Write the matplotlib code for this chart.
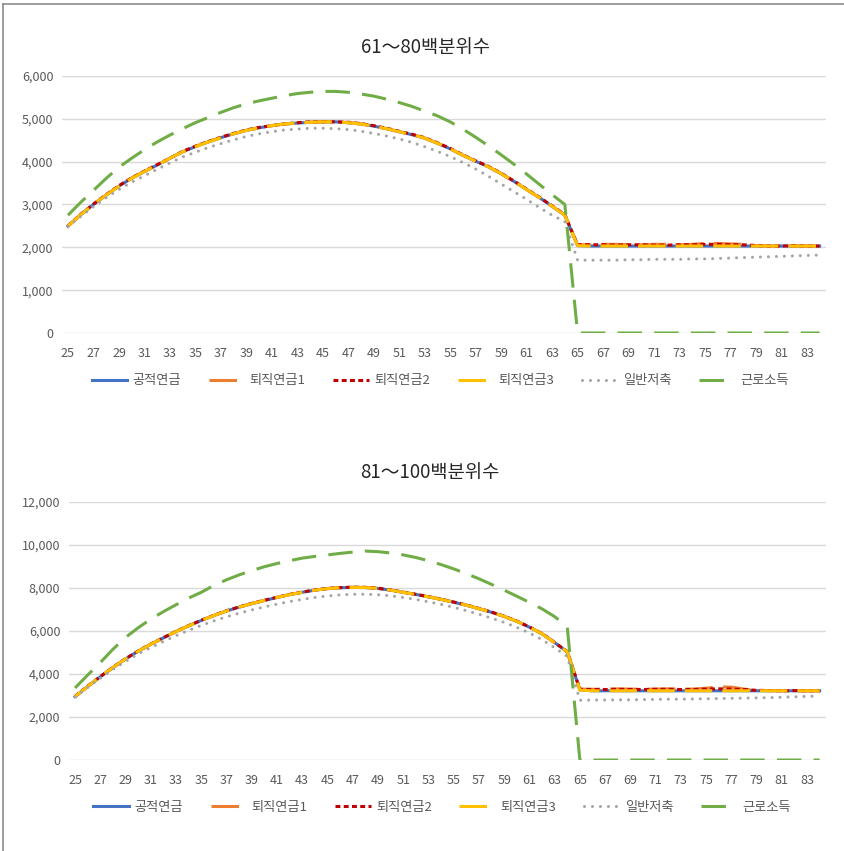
import numpy as np
import matplotlib
matplotlib.use('Agg')
import matplotlib.pyplot as plt
from matplotlib.ticker import FuncFormatter, MultipleLocator
from matplotlib.lines import Line2D

plt.rcParams['font.family'] = ['Noto Sans CJK KR', 'DejaVu Sans']

ages = list(range(25, 85))
age_ticks = list(range(25, 85, 2))

series_names = ['공적연금', '퇴직연금1', '퇴직연금2', '퇴직연금3', '일반저축', '근로소득']

# 61~80 percentile
mid_public = [2500, 2760, 3000, 3220, 3430, 3610, 3770, 3920, 4080, 4230,
              4350, 4460, 4560, 4650, 4730, 4790, 4840, 4880, 4900, 4920,
              4930, 4930, 4910, 4880, 4830, 4770, 4700, 4630, 4550, 4430,
              4300, 4150, 4010, 3880, 3720, 3540, 3350, 3160, 2960, 2750,
              2040, 2030, 2030, 2030, 2030, 2030, 2030, 2030, 2030, 2030,
              2030, 2030, 2030, 2030, 2030, 2030, 2030, 2030, 2030, 2030]
mid_ret1 = [2500, 2760, 3010, 3220, 3430, 3620, 3770, 3920, 4080, 4230,
            4360, 4460, 4560, 4650, 4730, 4790, 4840, 4880, 4900, 4920,
            4930, 4930, 4910, 4880, 4830, 4770, 4700, 4630, 4550, 4430,
            4300, 4150, 4010, 3880, 3720, 3540, 3350, 3160, 2960, 2760,
            2060, 2060, 2070, 2070, 2060, 2060, 2070, 2070, 2060, 2070,
            2090, 2090, 2080, 2070, 2040, 2030, 2030, 2030, 2030, 2030]
mid_ret2 = [2500, 2770, 3010, 3230, 3440, 3620, 3780, 3930, 4080, 4240,
            4360, 4470, 4570, 4660, 4740, 4800, 4840, 4880, 4910, 4930,
            4930, 4930, 4920, 4890, 4840, 4780, 4710, 4640, 4560, 4440,
            4310, 4160, 4020, 3890, 3730, 3550, 3360, 3170, 2970, 2760,
            2060, 2060, 2060, 2050, 2060, 2060, 2050, 2050, 2060, 2060,
            2070, 2070, 2060, 2060, 2040, 2030, 2030, 2040, 2030, 2030]
mid_ret3 = [2500, 2760, 3000, 3220, 3430, 3610, 3770, 3920, 4080, 4230,
            4350, 4460, 4560, 4650, 4730, 4790, 4840, 4880, 4900, 4920,
            4930, 4930, 4910, 4880, 4830, 4770, 4700, 4630, 4550, 4430,
            4300, 4150, 4010, 3880, 3720, 3540, 3350, 3160, 2960, 2750,
            2040, 2030, 2030, 2030, 2030, 2030, 2030, 2030, 2030, 2030,
            2030, 2030, 2030, 2030, 2030, 2030, 2030, 2030, 2030, 2030]
mid_saving = [2480, 2720, 2950, 3160, 3350, 3520, 3670, 3820, 3970, 4110,
              4220, 4330, 4420, 4510, 4590, 4650, 4700, 4740, 4760, 4780,
              4780, 4770, 4750, 4710, 4660, 4600, 4530, 4450, 4350, 4240,
              4120, 3980, 3830, 3660, 3480, 3300, 3120, 2930, 2750, 2600,
              1700, 1700, 1700, 1700, 1710, 1710, 1720, 1720, 1720, 1730,
              1730, 1740, 1750, 1760, 1770, 1780, 1790, 1800, 1810, 1820]
mid_wage = [2750, 3050, 3330, 3610, 3870, 4080, 4280, 4460, 4620, 4770,
            4910, 5030, 5150, 5260, 5350, 5420, 5480, 5540, 5590, 5620,
            5640, 5640, 5620, 5580, 5530, 5460, 5380, 5290, 5180, 5070,
            4930, 4760, 4570, 4370, 4160, 3940, 3710, 3470, 3230, 3000,
            0, 0, 0, 0, 0, 0, 0, 0, 0, 0,
            0, 0, 0, 0, 0, 0, 0, 0, 0, 0]

# 81~100 percentile
top_public = [2950, 3420, 3870, 4300, 4700, 5060, 5380, 5680, 5970, 6240,
              6490, 6720, 6930, 7110, 7270, 7420, 7560, 7690, 7800, 7900,
              7970, 8010, 8030, 8020, 7980, 7900, 7800, 7700, 7590, 7470,
              7340, 7200, 7040, 6870, 6680, 6450, 6180, 5870, 5460, 5030,
              3260, 3220, 3220, 3220, 3220, 3220, 3220, 3220, 3220, 3220,
              3220, 3220, 3220, 3220, 3220, 3220, 3220, 3220, 3220, 3220]
top_ret1 = [2950, 3420, 3880, 4300, 4710, 5060, 5390, 5680, 5980, 6240,
            6500, 6720, 6940, 7110, 7280, 7420, 7560, 7700, 7800, 7900,
            7980, 8010, 8030, 8030, 7980, 7910, 7800, 7710, 7590, 7480,
            7340, 7210, 7040, 6880, 6680, 6460, 6180, 5880, 5460, 5040,
            3300, 3290, 3300, 3310, 3300, 3290, 3300, 3310, 3300, 3300,
            3340, 3400, 3390, 3300, 3240, 3230, 3220, 3220, 3220, 3220]
top_ret2 = [2960, 3430, 3880, 4310, 4710, 5070, 5390, 5690, 5980, 6250,
            6500, 6730, 6940, 7120, 7280, 7430, 7570, 7700, 7810, 7910,
            7980, 8020, 8040, 8030, 7990, 7910, 7810, 7710, 7600, 7480,
            7350, 7210, 7050, 6880, 6690, 6460, 6190, 5880, 5470, 5040,
            3290, 3280, 3280, 3290, 3280, 3280, 3290, 3290, 3280, 3280,
            3300, 3310, 3300, 3280, 3240, 3230, 3220, 3230, 3220, 3220]
top_ret3 = [2950, 3420, 3870, 4300, 4700, 5060, 5380, 5680, 5970, 6240,
            6490, 6720, 6930, 7110, 7270, 7420, 7560, 7690, 7800, 7900,
            7970, 8010, 8030, 8020, 7980, 7900, 7800, 7700, 7590, 7470,
            7340, 7200, 7040, 6870, 6680, 6450, 6180, 5870, 5460, 5030,
            3250, 3220, 3220, 3220, 3220, 3220, 3220, 3220, 3220, 3220,
            3220, 3220, 3220, 3220, 3220, 3220, 3220, 3220, 3220, 3220]
top_saving = [2930, 3370, 3800, 4210, 4590, 4930, 5230, 5510, 5780, 6030,
              6260, 6470, 6660, 6830, 6980, 7120, 7250, 7370, 7470, 7560,
              7630, 7680, 7710, 7710, 7690, 7640, 7560, 7470, 7360, 7240,
              7100, 6950, 6780, 6600, 6400, 6170, 5910, 5600, 5220, 4820,
              2780, 2790, 2790, 2800, 2800, 2810, 2820, 2830, 2830, 2840,
              2850, 2860, 2870, 2880, 2890, 2900, 2920, 2940, 2960, 2980]
top_wage = [3350, 3950, 4530, 5150, 5700, 6150, 6550, 6900, 7220, 7530,
            7800, 8120, 8380, 8610, 8810, 8990, 9140, 9270, 9390, 9470,
            9540, 9610, 9670, 9720, 9690, 9630, 9540, 9420, 9270, 9090,
            8890, 8670, 8430, 8170, 7900, 7620, 7330, 7030, 6670, 6200,
            0, 0, 0, 0, 0, 0, 0, 0, 0, 0,
            0, 0, 0, 0, 0, 0, 0, 0, 0, 0]

colors = ['#4472C4', '#ED7D31', '#C00000', '#FFC000', '#A5A5A5', '#70AD47']
lw = 2.2
styles = [dict(linestyle='-'),
          dict(linestyle=(0, (9, 3.3))),
          dict(linestyle=(0, (1.6, 1.1))),
          dict(linestyle=(0, (9, 3.3))),
          dict(linestyle=(0, (0.01, 2.6)), dash_capstyle='round'),
          dict(linestyle=(0, (8, 4)))]

tick_color = '#595959'
grid_color = '#D9D9D9'

fig = plt.figure(figsize=(8.45, 8.51), dpi=100)


def draw_panel(rect, title, title_xy, legend_xy, data, ymax, ystep):
    ax = fig.add_axes(rect)
    x = np.arange(len(ages))
    for vals, name, c, st in zip(data, series_names, colors, styles):
        ax.plot(x, vals, color=c, lw=lw, label=name, **st)
    ax.set_xlim(-0.5, len(ages) - 0.5)
    ax.set_ylim(0, ymax)
    ax.yaxis.set_major_locator(MultipleLocator(ystep))
    ax.yaxis.set_major_formatter(FuncFormatter(lambda v, p: f'{int(v):,}'))
    ax.set_xticks([ages.index(a) for a in age_ticks])
    ax.set_xticklabels([str(a) for a in age_ticks])
    ax.grid(axis='y', color=grid_color, lw=1)
    ax.set_axisbelow(True)
    for s in ax.spines.values():
        s.set_visible(False)
    ax.tick_params(axis='both', length=0, labelsize=9, colors=tick_color)
    ax.tick_params(axis='y', pad=6)
    ax.tick_params(axis='x', pad=10)
    fig.text(title_xy[0], title_xy[1], title, ha='center', va='center',
             fontsize=13.5, color='#262626')
    fig.legend(*ax.get_legend_handles_labels(), loc='center',
               bbox_to_anchor=legend_xy, ncol=6, frameon=False,
               fontsize=9.5, handlelength=2.7, handletextpad=0.4,
               columnspacing=2.1, labelcolor=tick_color)
    return ax


draw_panel([0.0729, 0.6087, 0.9046, 0.3020], '61～80백분위수', (0.504, 0.944),
           (0.521, 0.5523),
           [mid_public, mid_ret1, mid_ret2, mid_ret3, mid_saving, mid_wage],
           6000, 1000)
draw_panel([0.0813, 0.1069, 0.8962, 0.3032], '81～100백분위수', (0.509, 0.4442),
           (0.523, 0.0517),
           [top_public, top_ret1, top_ret2, top_ret3, top_saving, top_wage],
           12000, 2000)

# outer frame on the left and top
fig.add_artist(Line2D([3.5 / 845, 3.5 / 845], [0, 1 - 3.5 / 851],
                      color='#8C8C8C', lw=1.2))
fig.add_artist(Line2D([3.5 / 845, 1], [1 - 3.5 / 851, 1 - 3.5 / 851],
                      color='#8C8C8C', lw=1.2))

fig.savefig('out.png', dpi=100, facecolor='white')
